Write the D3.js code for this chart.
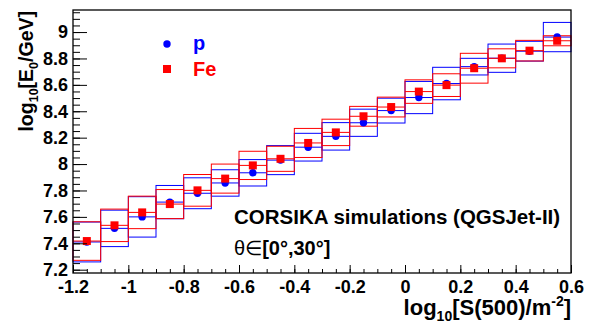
<!DOCTYPE html>
<html><head><meta charset="utf-8">
<script src="https://cdn.jsdelivr.net/npm/d3@7"></script>
<style>
body{margin:0;background:#fff}
svg{display:block}
text{font-family:"Liberation Sans",Arial,Helvetica,sans-serif;font-weight:bold}
</style>
</head><body><svg id="c" width="595" height="326"></svg>
<script>
// ---- data ----
const binCenters = [-1.15,-1.05,-0.95,-0.85,-0.75,-0.65,-0.55,-0.45,-0.35,-0.25,-0.15,-0.05,0.05,0.15,0.25,0.35,0.45,0.55];
const binWidth = 0.1;
const pMean  = [7.41,7.513,7.60,7.712,7.779,7.857,7.934,8.03,8.128,8.21,8.313,8.405,8.504,8.610,8.738,8.802,8.855,8.962];
const pSigma = [0.151,0.138,0.153,0.126,0.117,0.10,0.10,0.11,0.105,0.104,0.103,0.094,0.122,0.123,0.063,0.107,0.075,0.111];
const feMean  = [7.417,7.536,7.634,7.697,7.801,7.89,7.99,8.04,8.16,8.24,8.362,8.432,8.549,8.598,8.726,8.801,8.859,8.934];
const feSigma = [0.146,0.123,0.123,0.11,0.12,0.11,0.107,0.095,0.11,0.10,0.075,0.075,0.089,0.086,0.113,0.072,0.078,0.038];
const xTicks = [-1.2,-1,-0.8,-0.6,-0.4,-0.2,0,0.2,0.4,0.6];
const yTicks = [7.2,7.4,7.6,7.8,8,8.2,8.4,8.6,8.8,9];
const xDomain = [-1.2,0.6];
const yDomain = [7.175,9.167];

// ---- layout ----
const L=73,R=571,T=10,B=273;
const svg=d3.select("#c");
const x=d3.scaleLinear().domain(xDomain).range([L,R]);
const y=d3.scaleLinear().domain(yDomain).range([B,T]);
const fmt=d=>String(+d.toFixed(2)).replace("\u2212","-");

const series=[
  {name:"p",mean:pMean,sigma:pSigma,color:"#0000ff",marker:"circle"},
  {name:"Fe",mean:feMean,sigma:feSigma,color:"#ff0000",marker:"square"}
];

// boxes
series.forEach(s=>{
  const g=svg.append("g").attr("fill","none").attr("stroke",s.color).attr("stroke-width",1);
  binCenters.forEach((c,i)=>{
    const x0=x(c-binWidth/2), x1=x(c+binWidth/2);
    const yt=y(s.mean[i]+s.sigma[i]), yb=y(s.mean[i]-s.sigma[i]);
    g.append("rect").attr("x",x0).attr("y",yt).attr("width",x1-x0).attr("height",yb-yt);
    g.append("line").attr("x1",x0).attr("x2",x1).attr("y1",y(s.mean[i])).attr("y2",y(s.mean[i]));
  });
});
// markers
series.forEach(s=>{
  const g=svg.append("g").attr("fill",s.color);
  binCenters.forEach((c,i)=>{
    if(s.marker==="circle") g.append("circle").attr("cx",x(c)).attr("cy",y(s.mean[i])).attr("r",3.7);
    else g.append("rect").attr("x",x(c)-4).attr("y",y(s.mean[i])-4).attr("width",8).attr("height",8);
  });
});

// frame
svg.append("rect").attr("x",L).attr("y",T).attr("width",R-L).attr("height",B-T)
  .attr("fill","none").attr("stroke","#000").attr("stroke-width",1.3);

// minor ticks
const xMinor=d3.range(-1.2,0.6001,0.05).map(v=>+v.toFixed(2));
const yMinor=d3.range(7.2,9.1501,0.05).map(v=>+v.toFixed(2));
svg.append("g").attr("transform",`translate(0,${B})`)
  .call(d3.axisBottom(x).tickValues(xMinor).tickSize(-4).tickFormat(""))
  .call(g=>g.select(".domain").remove());
svg.append("g").attr("transform",`translate(${L},0)`)
  .call(d3.axisLeft(y).tickValues(yMinor).tickSize(-7).tickFormat(""))
  .call(g=>g.select(".domain").remove());
// major ticks
const xa=svg.append("g").attr("transform",`translate(0,${B})`)
  .call(d3.axisBottom(x).tickValues(xTicks).tickSize(-8).tickPadding(7).tickFormat(fmt));
const ya=svg.append("g").attr("transform",`translate(${L},0)`)
  .call(d3.axisLeft(y).tickValues(yTicks).tickSize(-14).tickPadding(5).tickFormat(fmt));
[xa,ya].forEach(a=>{a.select(".domain").remove();
  a.selectAll("text").attr("font-size",18).attr("fill","#000")
   .attr("font-family","'Liberation Sans',Arial,sans-serif").attr("font-weight","bold");});
svg.selectAll(".tick line").attr("stroke","#000").attr("stroke-width",1);

// axis titles
const xt=svg.append("text").attr("x",R).attr("y",315).attr("text-anchor","end").attr("font-size",22);
xt.append("tspan").text("log");
xt.append("tspan").attr("font-size",14).attr("dy",6).text("10");
xt.append("tspan").attr("dy",-6).text("[S(500)/m");
xt.append("tspan").attr("font-size",14).attr("dy",-9).text("-2");
xt.append("tspan").attr("dy",9).text("]");

const yt=svg.append("text").attr("transform",`translate(33,${T+1}) rotate(-90)`).attr("text-anchor","end").attr("font-size",19.5);
yt.append("tspan").text("log");
yt.append("tspan").attr("font-size",12.5).attr("dy",5).text("10");
yt.append("tspan").attr("dy",-5).text("[E");
yt.append("tspan").attr("font-size",12.5).attr("dy",5).text("0");
yt.append("tspan").attr("dy",-5).text("/GeV]");

// legend
svg.append("circle").attr("cx",167).attr("cy",44).attr("r",3.7).attr("fill","#0000ff");
svg.append("text").attr("x",193).attr("y",50).attr("font-size",20).attr("fill","#0000ff").text("p");
svg.append("rect").attr("x",163).attr("y",65).attr("width",8).attr("height",8).attr("fill","#ff0000");
svg.append("text").attr("x",193).attr("y",75.5).attr("font-size",20).attr("fill","#ff0000").text("Fe");

// annotations
svg.append("text").attr("x",234).attr("y",224).attr("font-size",20.5).attr("fill","#000").text("CORSIKA simulations (QGSJet-II)");
const th=svg.append("text").attr("x",234).attr("y",255).attr("font-size",20).attr("fill","#000");
th.append("tspan").attr("font-weight","normal").text("\u03b8\u2208");
th.append("tspan").text("[0\u00b0,30\u00b0]");
</script>
</body></html>
